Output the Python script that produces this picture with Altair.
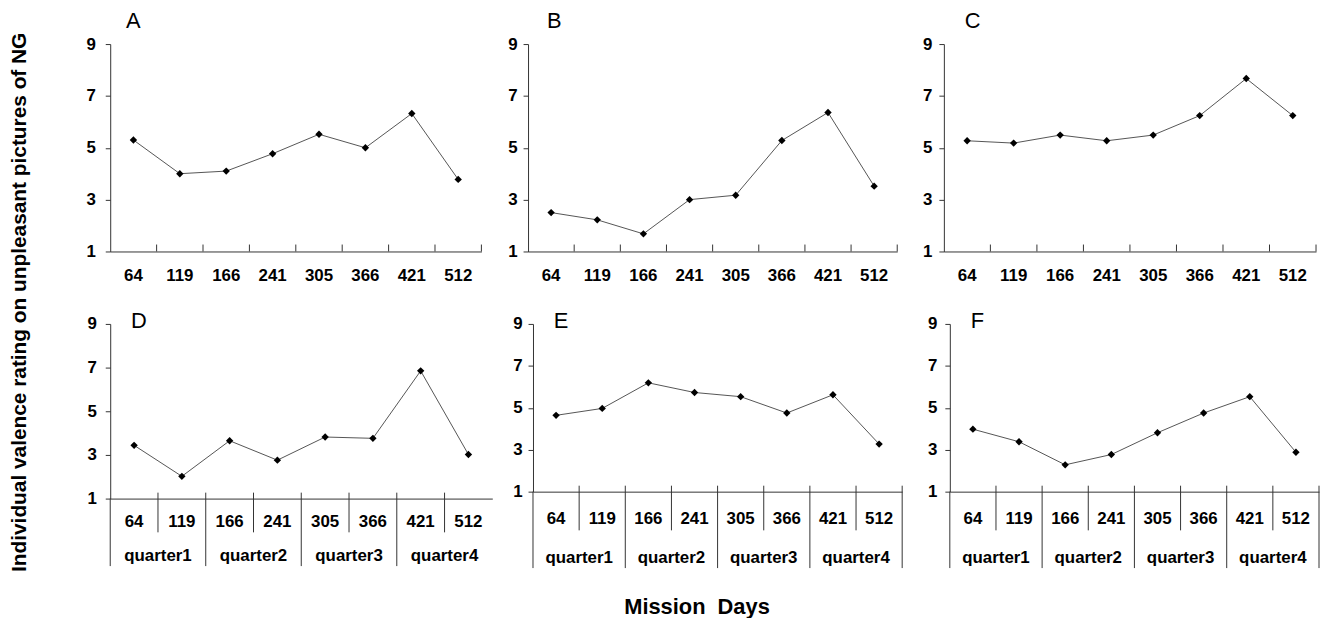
import altair as alt
import pandas as pd

days = ["64", "119", "166", "241", "305", "366", "421", "512"]
quarters = ["quarter1", "quarter2", "quarter3", "quarter4"]
yticks = [1, 3, 5, 7, 9]

A_vals = [5.30, 4.00, 4.10, 4.77, 5.52, 5.00, 6.32, 3.78]
B_vals = [2.50, 2.22, 1.68, 3.00, 3.17, 5.28, 6.36, 3.52]
C_vals = [5.27, 5.18, 5.49, 5.27, 5.49, 6.24, 7.67, 6.24]
D_vals = [3.44, 2.02, 3.65, 2.76, 3.82, 3.76, 6.85, 3.02]
E_vals = [4.64, 4.97, 6.19, 5.73, 5.53, 4.75, 5.62, 3.27]
F_vals = [3.98, 3.38, 2.28, 2.77, 3.81, 4.75, 5.53, 2.88]

LAB_FONT = "Liberation Sans"
LAB_SIZE = 17
AX_COL = "#333333"


def panel(letter, vals, w, h, y_ext, y_pad, let_x, let_y, bottom,
          lab_pad, short_len=0, long_len=0, q_y=0, right_edge=False):
    df = pd.DataFrame({"day": days, "value": vals})
    x_axis = alt.Axis(title=None, labelAngle=0, ticks=False, labelPadding=lab_pad,
                      labelFont=LAB_FONT, labelFontSize=LAB_SIZE, labelFontWeight="bold",
                      labelColor="black", domainColor=AX_COL, grid=False)
    x_scale = alt.Scale(domain=days, paddingInner=0, paddingOuter=0)

    def X(bp=0.5):
        return alt.X("day:N", sort=days, scale=x_scale, axis=x_axis, bandPosition=bp)

    y = alt.Y("value:Q", scale=alt.Scale(domain=[1, 9], nice=False, zero=False),
              axis=alt.Axis(title=None, values=yticks, tickSize=5, tickColor=AX_COL,
                            domainColor=AX_COL, labelPadding=y_pad, labelFont=LAB_FONT,
                            labelFontSize=LAB_SIZE, labelFontWeight="bold",
                            labelColor="black", grid=False,
                            minExtent=y_ext, maxExtent=y_ext))

    base = alt.Chart(df)
    line = base.mark_line(color="#555555", strokeWidth=1).encode(x=X(), y=y)
    pts = base.mark_point(shape="diamond", filled=True, size=55, color="black",
                          opacity=1).encode(x=X(), y=y)
    lab = alt.Chart(pd.DataFrame({"t": [letter]})).mark_text(
        font="Liberation Sans", fontSize=22, align="left", baseline="middle",
        color="black").encode(text="t:N", x=alt.value(let_x), y=alt.value(let_y))
    layers = [line, pts, lab]
    if not bottom:
        tk = alt.Chart(pd.DataFrame({"day": days})).mark_rule(
            color=AX_COL, strokeWidth=1).encode(
            x=X(1), y=alt.value(h), y2=alt.value(h - 7))
        layers.append(tk)
    else:
        short_days = [days[i] for i in (1, 3, 5, 7)]
        long_days = [days[i] for i in (2, 4, 6)]
        s = alt.Chart(pd.DataFrame({"day": short_days})).mark_rule(
            color=AX_COL, strokeWidth=1).encode(
            x=X(0), y=alt.value(h - 6), y2=alt.value(h + short_len))
        l = alt.Chart(pd.DataFrame({"day": long_days})).mark_rule(
            color=AX_COL, strokeWidth=1).encode(
            x=X(0), y=alt.value(h - 6), y2=alt.value(h + long_len))
        left = alt.Chart(pd.DataFrame({"day": [days[0]]})).mark_rule(
            color=AX_COL, strokeWidth=1).encode(
            x=X(0), y=alt.value(h), y2=alt.value(h + long_len))
        # quarter label centred on the boundary between its two days
        q_days = [days[i] for i in (1, 3, 5, 7)]
        qt = alt.Chart(pd.DataFrame({"day": q_days, "q": quarters})).mark_text(
            font=LAB_FONT, fontSize=LAB_SIZE, fontWeight="bold", baseline="middle",
            color="black").encode(x=X(0), text="q:N", y=alt.value(h + q_y))
        layers += [s, l, left, qt]
        if right_edge:
            r = alt.Chart(pd.DataFrame({"day": [days[-1]]})).mark_rule(
                color=AX_COL, strokeWidth=1).encode(
                x=X(1), y=alt.value(h - 6), y2=alt.value(h + long_len))
            layers.append(r)
    return alt.layer(*layers).properties(width=w, height=h)


A = panel("A", A_vals, 374, 209, 36, 10, 16, -23, False, 16)
B = panel("B", B_vals, 372, 209, 36, 6, 19, -23, False, 16)
C = panel("C", C_vals, 375, 209, 36, 7, 21, -23, False, 16)
D = panel("D", D_vals, 385, 176, 30, 9, 21, -3, True, 15, 34, 68, 58, False)
E = panel("E", E_vals, 372, 169, 31, 6, 21, -3, True, 19, 39, 77, 67, True)
F = panel("F", F_vals, 372, 169, 37, 8, 21, -3, True, 19, 39, 77, 67, True)

row1 = alt.hconcat(A, B, C, spacing=10)
row2 = alt.hconcat(D, E, F, spacing=10)

inner = alt.vconcat(row1, row2, spacing=27).properties(
    title=alt.TitleParams("Mission\u00a0\u00a0Days", orient="bottom", anchor="middle",
                          font="Liberation Sans", fontSize=22, fontWeight="bold",
                          color="black", offset=29))

chart = alt.hconcat(inner).properties(
    title=alt.TitleParams("Individual valence rating on unpleasant pictures of NG",
                          orient="left", anchor="middle", font="Liberation Sans",
                          fontSize=21, fontWeight="bold", color="black", offset=45,
                          dx=12),
    padding=0
).configure_view(stroke=None)

chart.save("out.html", embed_options={"renderer": "svg", "actions": False})
